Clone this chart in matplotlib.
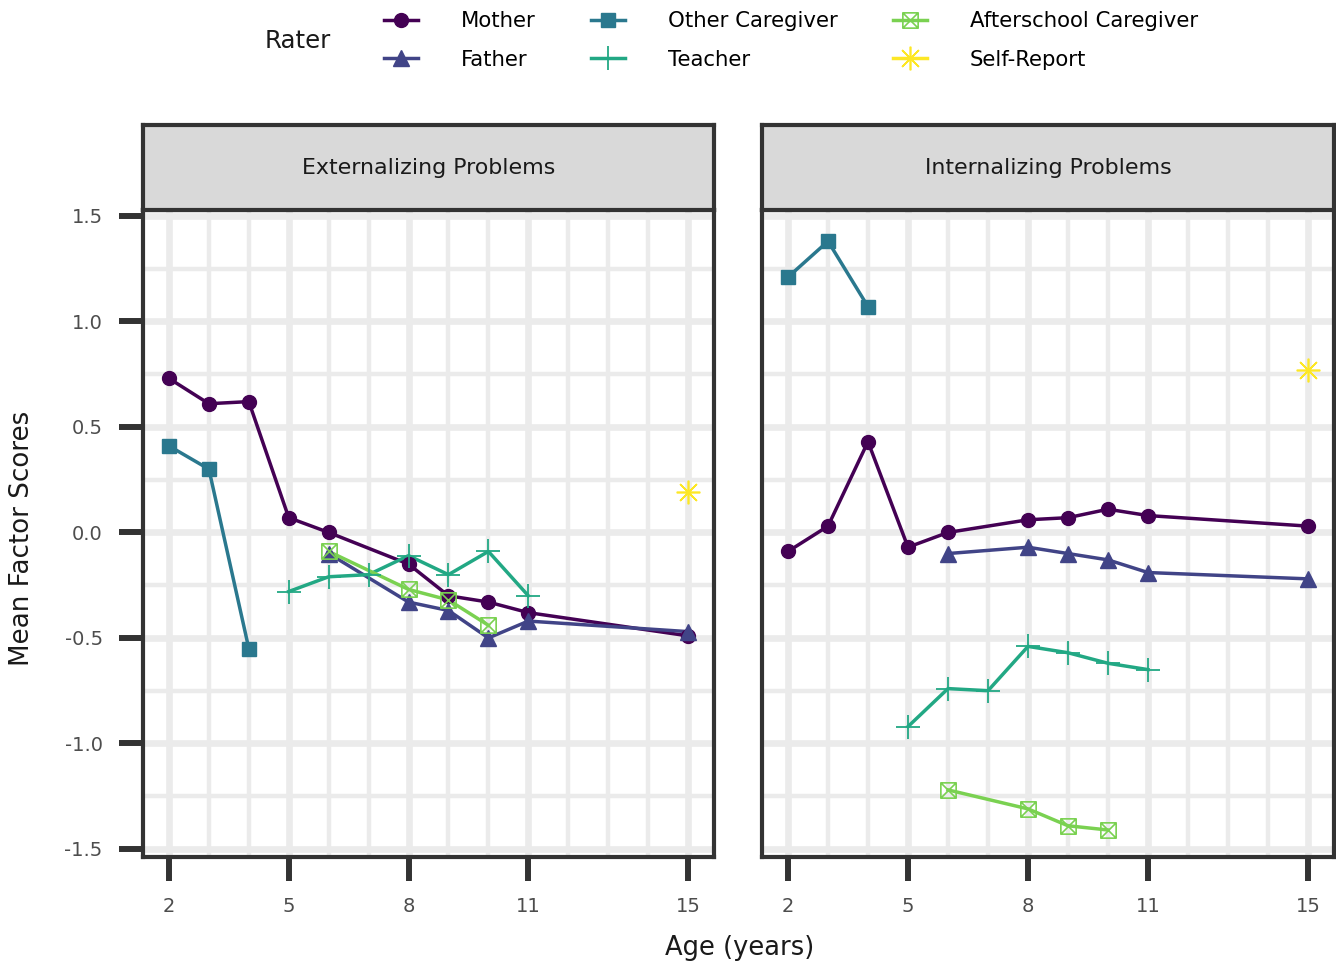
import numpy as np
import matplotlib as mpl
from matplotlib import pyplot as plt
from matplotlib.lines import Line2D
from matplotlib.path import Path

plt.rcParams['font.family'] = ['DejaVu Sans']

# ---- data ----
raters = ['Mother', 'Father', 'Other Caregiver', 'Teacher',
          'Afterschool Caregiver', 'Self-Report']
panels = ['Externalizing Problems', 'Internalizing Problems']

age_mother = [2, 3, 4, 5, 6, 8, 9, 10, 11, 15]
age_father = [6, 8, 9, 10, 11, 15]
age_other = [2, 3, 4]
age_teacher = [5, 6, 7, 8, 9, 10, 11]
age_after = [6, 8, 9, 10]
age_self = [15]

ext_mother = [0.73, 0.61, 0.62, 0.07, 0.00, -0.15, -0.30, -0.33, -0.38, -0.49]
ext_father = [-0.10, -0.33, -0.37, -0.50, -0.42, -0.47]
ext_other = [0.41, 0.30, -0.55]
ext_teacher = [-0.28, -0.21, -0.20, -0.11, -0.20, -0.09, -0.30]
ext_after = [-0.09, -0.27, -0.32, -0.44]
ext_self = [0.19]

int_mother = [-0.09, 0.03, 0.43, -0.07, 0.00, 0.06, 0.07, 0.11, 0.08, 0.03]
int_father = [-0.10, -0.07, -0.10, -0.13, -0.19, -0.22]
int_other = [1.21, 1.38, 1.07]
int_teacher = [-0.92, -0.74, -0.75, -0.54, -0.57, -0.62, -0.65]
int_after = [-1.22, -1.31, -1.39, -1.41]
int_self = [0.77]

x_ticks = [2, 5, 8, 11, 15]
y_ticks = [-1.5, -1.0, -0.5, 0.0, 0.5, 1.0, 1.5]
y_ticklabels = ['-1.5', '-1.0', '-0.5', '0.0', '0.5', '1.0', '1.5']

ages = [age_mother, age_father, age_other, age_teacher, age_after, age_self]
series = {
    'Externalizing Problems': [ext_mother, ext_father, ext_other,
                               ext_teacher, ext_after, ext_self],
    'Internalizing Problems': [int_mother, int_father, int_other,
                               int_teacher, int_after, int_self],
}

# ---- styles ----
sq_cross = Path([(-1, -1), (1, -1), (1, 1), (-1, 1), (-1, -1),
                 (-1, -1), (1, 1), (-1, 1), (1, -1)],
                [Path.MOVETO, Path.LINETO, Path.LINETO, Path.LINETO, Path.CLOSEPOLY,
                 Path.MOVETO, Path.LINETO, Path.MOVETO, Path.LINETO])

colors = ['#440154', '#414487', '#2A788E', '#22A884', '#7AD151', '#FDE725']
mk = [
    dict(marker='o', ms=10),
    dict(marker='^', ms=11),
    dict(marker='s', ms=10),
    dict(marker='+', ms=17, mew=1.3),
    dict(marker=sq_cross, ms=11, mfc='none', mew=1.2),
    dict(marker=(8, 2, 0), ms=17, mew=1.2),
]

grid_col = '#ebebeb'
dark = '#333333'

fig = plt.figure(figsize=(13.36, 9.65), dpi=100)
W, H = 1336, 965

boxes = [(143, 714), (762, 1334)]
p_top, p_bot, s_top = 210, 857, 125

for i, (panel, (x0, x1)) in enumerate(zip(panels, boxes)):
    ax = fig.add_axes([x0 / W, 1 - p_bot / H, (x1 - x0) / W, (p_bot - p_top) / H])
    ax.set_xlim(1.35, 15.65)
    ax.set_ylim(-1.538, 1.528)
    ax.set_xticks(x_ticks)
    ax.set_xticks(range(2, 16), minor=True)
    ax.set_yticks(y_ticks)
    ax.set_yticks(np.arange(-1.25, 1.5, 0.5), minor=True)
    ax.grid(which='major', color=grid_col, lw=4.8)
    ax.grid(which='minor', color=grid_col, lw=3.2)
    ax.set_axisbelow(True)
    ax.tick_params(which='minor', length=0)
    ax.tick_params(which='major', length=17, width=4.3, color=dark,
                   labelsize=14, labelcolor='#4d4d4d', pad=12)
    if i == 0:
        ax.set_yticklabels(y_ticklabels)
    else:
        ax.tick_params(axis='y', which='major', length=0, labelleft=False)
    for sp in ax.spines.values():
        sp.set_color(dark)
        sp.set_linewidth(3.0)

    for j, vals in enumerate(series[panel]):
        ax.plot(ages[j], vals, color=colors[j], lw=2.5, zorder=3)
    for j, vals in enumerate(series[panel]):
        ax.plot(ages[j], vals, ls='none', color=colors[j], zorder=4, **mk[j])

    # facet strip
    sax = fig.add_axes([x0 / W, 1 - p_top / H, (x1 - x0) / W, (p_top - s_top) / H])
    sax.set_facecolor('#d9d9d9')
    sax.set_xticks([])
    sax.set_yticks([])
    for sp in sax.spines.values():
        sp.set_color(dark)
        sp.set_linewidth(3.0)
    sax.text(0.5, 0.5, panel, ha='center', va='center', fontsize=15.9,
             color='#1a1a1a', transform=sax.transAxes)

fig.text(22 / W, 1 - 538 / H, 'Mean Factor Scores', rotation=90,
         ha='center', va='center', fontsize=18.8, color='#1a1a1a')
fig.text(740 / W, 1 - 948 / H, 'Age (years)', ha='center', va='center',
         fontsize=18.5, color='#1a1a1a')

# legend
handles = [Line2D([], [], color=colors[j], lw=2.5, **mk[j]) for j in range(6)]
fig.text(265 / W, 1 - 41 / H, 'Rater', ha='left', va='center',
         fontsize=17.6, color='#1a1a1a')
fig.legend(handles, raters, ncol=3, loc='upper left',
           bbox_to_anchor=(384 / W, 1 - 11 / H), frameon=False,
           fontsize=15.3, handlelength=1.6, handletextpad=2.0,
           columnspacing=2.63, labelspacing=0.88, borderpad=0, borderaxespad=0)

fig.savefig('out.png', dpi=100)
